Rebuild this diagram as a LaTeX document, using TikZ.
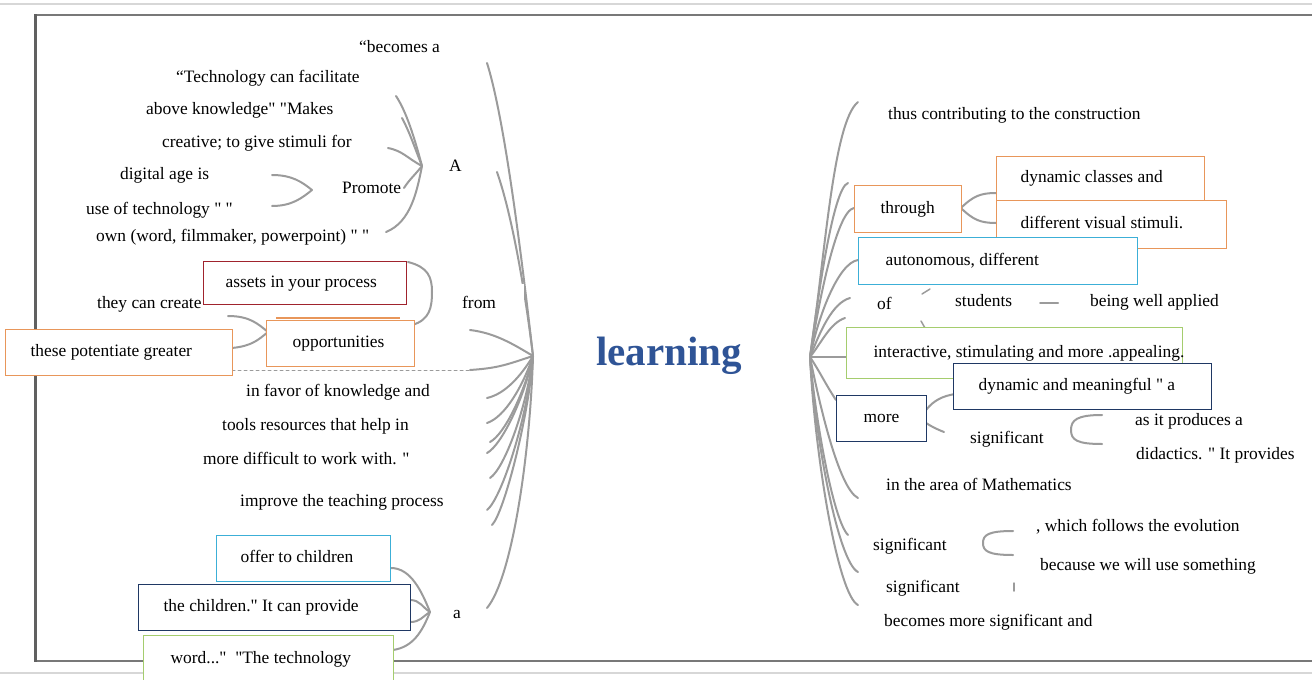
\documentclass[tikz,border=0pt]{standalone}
\usepackage{fontspec}
\setmainfont{Liberation Serif}[Ligatures=TeXOff]
\definecolor{conn}{RGB}{155,155,155}
\definecolor{orng}{RGB}{232,150,90}
\definecolor{dred}{RGB}{160,35,45}
\definecolor{cyn}{RGB}{60,175,215}
\definecolor{navy}{RGB}{31,56,100}
\definecolor{grn}{RGB}{165,205,110}
\definecolor{lblue}{RGB}{47,84,150}
\definecolor{framec}{RGB}{120,120,120}
\definecolor{faint}{RGB}{215,215,215}
\newcommand{\bxw}[2]{\makebox[#1pt][l]{#2}}
\begin{document}
\begin{tikzpicture}[x=1pt,y=-1pt,
  every node/.style={font=\fontsize{17.4}{20}\selectfont, inner sep=0pt},
  lbl/.style={anchor=west, text height=12pt, text depth=4pt},
  box/.style={draw, fill=white, line width=1.3pt, anchor=north west, inner ysep=0pt, text height=12pt, text depth=4pt},
  link/.style={draw=conn, line width=2pt, line cap=round}]
\useasboundingbox (0,0) rectangle (1312,680);
% frame
\draw[faint, line width=1.5pt] (0,4) -- (1312,4);
\draw[faint, line width=1.5pt] (0,673) -- (1312,673);
\draw[framec, line width=2.5pt] (35,15) -- (1312,15);
\draw[framec, line width=2.5pt] (35,661) -- (1312,661);
\draw[framec!80!black, line width=3pt] (35,14) -- (35,662);

% hubs and ends
\coordinate (HL) at (533,356);
\coordinate (HR) at (810,357);
\coordinate (T1) at (487,63);
\coordinate (T2) at (497,172);
\coordinate (E1) at (470,330);
\coordinate (E2) at (470,370);
\coordinate (E2s) at (232,370);
\coordinate (E3) at (487,398);
\coordinate (E4) at (487,423);
\coordinate (E5) at (490,442);
\coordinate (E6) at (487,453);
\coordinate (E7) at (490,478);
\coordinate (E8) at (487,510);
\coordinate (E9) at (492,525);
\coordinate (E10) at (487,608);

\draw[link] (HL) .. controls (522,260) and (505,120) .. (T1);
\draw[link] (HL) .. controls (525,290) and (512,215) .. (T2);
\draw[link] (E1) .. controls +(25,3) and +(-20,-12) .. (HL);
\draw[link, dashed, line width=1pt] (E2s) -- (E2);
\draw[link] (E2) .. controls +(30,-2) and +(-25,8) .. (HL);
\draw[link] (E3) .. controls +(18,-4) and +(-12,20) .. (HL);
\draw[link] (E4) .. controls +(18,-6) and +(-10,30) .. (HL);
\draw[link] (E5) .. controls +(15,-8) and +(-8,35) .. (HL);
\draw[link] (E6) .. controls +(15,-8) and +(-8,40) .. (HL);
\draw[link] (E7) .. controls +(15,-10) and +(-6,50) .. (HL);
\draw[link] (E8) .. controls +(15,-12) and +(-5,60) .. (HL);
\draw[link] (E9) .. controls +(12,-12) and +(-4,60) .. (HL);
\draw[link] (E10) .. controls +(25,-30) and +(-3,100) .. (HL);

% A fan
\coordinate (FA) at (422,166);
\coordinate (A1) at (396,96);
\coordinate (A2) at (402,118);
\coordinate (A3) at (388,148);
\coordinate (A4) at (404,188);
\coordinate (A5) at (386,232);
\draw[link] (A1) .. controls +(10,15) and +(-8,-30) .. (FA);
\draw[link] (A2) .. controls +(8,15) and +(-8,-20) .. (FA);
\draw[link] (A3) .. controls +(15,3) and +(-15,-8) .. (FA);
\draw[link] (A4) .. controls +(5,-8) and +(-8,10) .. (FA);
\draw[link] (A5) .. controls +(25,-10) and +(-5,25) .. (FA);

% Promote bracket
\coordinate (PT) at (312,190);
\coordinate (P1) at (272,175);
\coordinate (P2) at (272,206);
\draw[link] (P1) .. controls +(20,0) and +(-10,-8) .. (PT);
\draw[link] (P2) .. controls +(20,0) and +(-10,8) .. (PT);

% from bracket
\coordinate (B1) at (408,262);
\coordinate (BA) at (432,292);
\coordinate (B2) at (412,325);
\draw[link] (B1) .. controls +(20,5) and +(0,-15) .. (BA);
\draw[link] (BA) .. controls +(0,15) and +(18,-5) .. (B2);

% they can create bracket
\coordinate (TC) at (268,332);
\coordinate (C1) at (228,316);
\coordinate (C2) at (232,348);
\draw[link] (C1) .. controls +(22,0) and +(-10,-8) .. (TC);
\draw[link] (C2) .. controls +(20,-2) and +(-10,8) .. (TC);

% a fan
\coordinate (Fa) at (430,612);
\coordinate (O1) at (391,568);
\coordinate (O2) at (410,600);
\coordinate (O3) at (410,622);
\coordinate (O4) at (393,650);
\draw[link] (O1) .. controls +(20,0) and +(-8,-20) .. (Fa);
\draw[link] (O2) .. controls +(10,0) and +(-8,-5) .. (Fa);
\draw[link] (O3) .. controls +(10,0) and +(-8,5) .. (Fa);
\draw[link] (O4) .. controls +(20,-3) and +(-8,20) .. (Fa);

% right fan
\coordinate (R1) at (858,102);
\coordinate (R2) at (848,183);
\coordinate (R3) at (854,208);
\coordinate (R4) at (858,260);
\coordinate (R5) at (850,298);
\coordinate (R6) at (845,318);
\coordinate (R7) at (846,357);
\coordinate (R8) at (836,400);
\coordinate (R9) at (858,498);
\coordinate (R10) at (848,535);
\coordinate (R11) at (858,572);
\coordinate (R12) at (858,605);
\draw[link] (HR) .. controls +(15,-100) and +(-25,20) .. (R1);
\draw[link] (HR) .. controls +(8,-60) and +(-15,5) .. (R2);
\draw[link] (HR) .. controls +(8,-50) and +(-18,3) .. (R3);
\draw[link] (HR) .. controls +(8,-40) and +(-20,3) .. (R4);
\draw[link] (HR) .. controls +(10,-25) and +(-18,5) .. (R5);
\draw[link] (HR) .. controls +(12,-15) and +(-15,5) .. (R6);
\draw[link] (HR) -- (R7);
\draw[link] (HR) .. controls +(10,15) and +(-10,-15) .. (R8);
\draw[link] (HR) .. controls +(8,40) and +(-20,-10) .. (R9);
\draw[link] (HR) .. controls +(5,60) and +(-15,-15) .. (R10);
\draw[link] (HR) .. controls +(5,80) and +(-20,-10) .. (R11);
\draw[link] (HR) .. controls +(5,100) and +(-20,-10) .. (R12);

% right small connectors
\coordinate (TH1) at (961,208);
\coordinate (TH2) at (996,193);
\coordinate (TH3) at (996,223);
\draw[link] (TH1) .. controls +(12,-12) and +(-15,0) .. (TH2);
\draw[link] (TH1) .. controls +(12,12) and +(-15,0) .. (TH3);
\coordinate (M1) at (926,410);
\coordinate (M2) at (955,394);
\coordinate (M3) at (926,423);
\coordinate (M4) at (944,432);
\draw[link] (M1) .. controls +(8,-10) and +(-12,2) .. (M2);
\draw[link] (M3) .. controls +(8,5) and +(-5,-2) .. (M4);
\coordinate (K1) at (1102,415);
\coordinate (KA) at (1071,430);
\coordinate (K2) at (1102,444);
\draw[link] (K1) .. controls +(-25,0) and +(0,-10) .. (KA) .. controls +(0,10) and +(-25,0) .. (K2);
\coordinate (S1) at (1013,531);
\coordinate (SA) at (983,543);
\coordinate (S2) at (1013,555);
\draw[link] (S1) .. controls +(-25,0) and +(0,-8) .. (SA) .. controls +(0,8) and +(-25,0) .. (S2);
\coordinate (tk1) at (1014,583);
\coordinate (tk2) at (1014,591);
\draw[link, line width=1.5pt] (tk1) -- (tk2);
\coordinate (ds1) at (1040,303);
\coordinate (ds2) at (1058,303);
\draw[link] (ds1) -- (ds2);
\coordinate (of1) at (922,294);
\coordinate (of2) at (930,289);
\draw[link, line width=1.5pt] (of1) -- (of2);
\coordinate (of3) at (921,321);
\coordinate (of4) at (925,328);
\draw[link, line width=1.5pt] (of3) -- (of4);

% left boxes
\node[box, draw=dred, inner xsep=22pt, minimum height=43pt] (assets) at (203,261) {\bxw{159}{assets in your process}};
\draw[orng, line width=1.3pt] (276,318) -- (400,318);
\node[box, draw=orng, inner xsep=26pt, minimum height=46pt] (opp) at (266,320) {\bxw{96}{opportunities}};
\node[box, draw=orng, inner xsep=25pt, minimum height=46pt] (these) at (5,329) {\bxw{177}{these potentiate greater}};
\node[box, draw=cyn, inner xsep=24pt, minimum height=46pt] (offer) at (216,535) {\bxw{126}{offer to children}};
\node[box, draw=navy, inner xsep=25pt, minimum height=46pt] (child) at (138,584) {\bxw{222}{the children." It can provide}};
\node[box, draw=grn, inner xsep=27pt, minimum height=48pt] (word) at (143,635) {\bxw{196}{word..."\enspace "The technology}};

% right boxes
\node[box, draw=orng, inner xsep=26pt, minimum height=47pt] (through) at (854,185) {\bxw{55}{through}};
\node[box, draw=orng, inner xsep=24pt, minimum height=44pt] (dyncl) at (996,156) {\bxw{160}{dynamic classes and}};
\node[box, draw=orng, inner xsep=24pt, minimum height=48pt] (diffvis) at (996,200) {\bxw{182}{different visual stimuli.}};
\node[box, draw=cyn, inner xsep=27pt, minimum height=47pt] (auton) at (858,237) {\bxw{225}{autonomous, different}};
\node[box, draw=grn, inner xsep=27pt, minimum height=51pt] (inter) at (846,327) {\bxw{282}{interactive, stimulating and more .appealing.}};
\node[box, draw=navy, inner xsep=25pt, minimum height=46pt] (dynmean) at (953,363) {\bxw{208}{dynamic and meaningful " a}};
\node[box, draw=navy, inner xsep=27pt, minimum height=46pt] (more) at (836,395) {\bxw{36}{more}};

% from (white patch)
\node[fill=white, anchor=north west, inner xsep=14pt, inner ysep=0pt, minimum height=41pt, text height=12pt, text depth=4pt] (from) at (448,284) {\bxw{48}{from}};

% left labels
\node[lbl] (l1) at (359,48) {“becomes a};
\node[lbl] (l2) at (176,78) {“Technology can facilitate};
\node[lbl] (l3) at (146,110) {above knowledge" "Makes};
\node[lbl] (l4) at (162,143) {creative; to give stimuli for};
\node[lbl] (l5) at (120,175) {digital age is};
\node[lbl] (l6) at (342,189) {Promote};
\node[lbl] (l7) at (86,210) {use of technology " "};
\node[lbl] (l8) at (96,237) {own (word, filmmaker, powerpoint) " "};
\node[lbl] (lA) at (449,167) {A};
\node[lbl] (l9) at (97,304) {they can create};
\node[lbl] (l10) at (246,392) {in favor of knowledge and};
\node[lbl] (l11) at (222,426) {tools resources that help in};
\node[lbl] (l12) at (203,460) {more difficult to work with. "};
\node[lbl] (l13) at (240,502) {improve the teaching process};
\node[lbl] (la) at (453,614) {a};

% center
\node[font=\fontsize{41}{48}\selectfont\bfseries, text=lblue] (learn) at (669,356) {learning};

% right labels
\node[lbl] (r1) at (888,115) {thus contributing to the construction};
\node[lbl] (r2) at (877,305) {of};
\node[lbl] (r3) at (955,302) {students};
\node[lbl] (r4) at (1090,302) {being well applied};
\node[lbl] (r5) at (1135,421) {as it produces a};
\node[lbl] (r6) at (970,439) {significant};
\node[lbl] (r7) at (1136,455) {didactics. " It provides};
\node[lbl] (r8) at (886,486) {in the area of Mathematics};
\node[lbl] (r9) at (1036,527) {, which follows the evolution};
\node[lbl] (r10) at (873,546) {significant};
\node[lbl] (r11) at (1040,566) {because we will use something};
\node[lbl] (r12) at (886,588) {significant};
\node[lbl] (r13) at (884,622) {becomes more significant and};
\end{tikzpicture}
\end{document}
